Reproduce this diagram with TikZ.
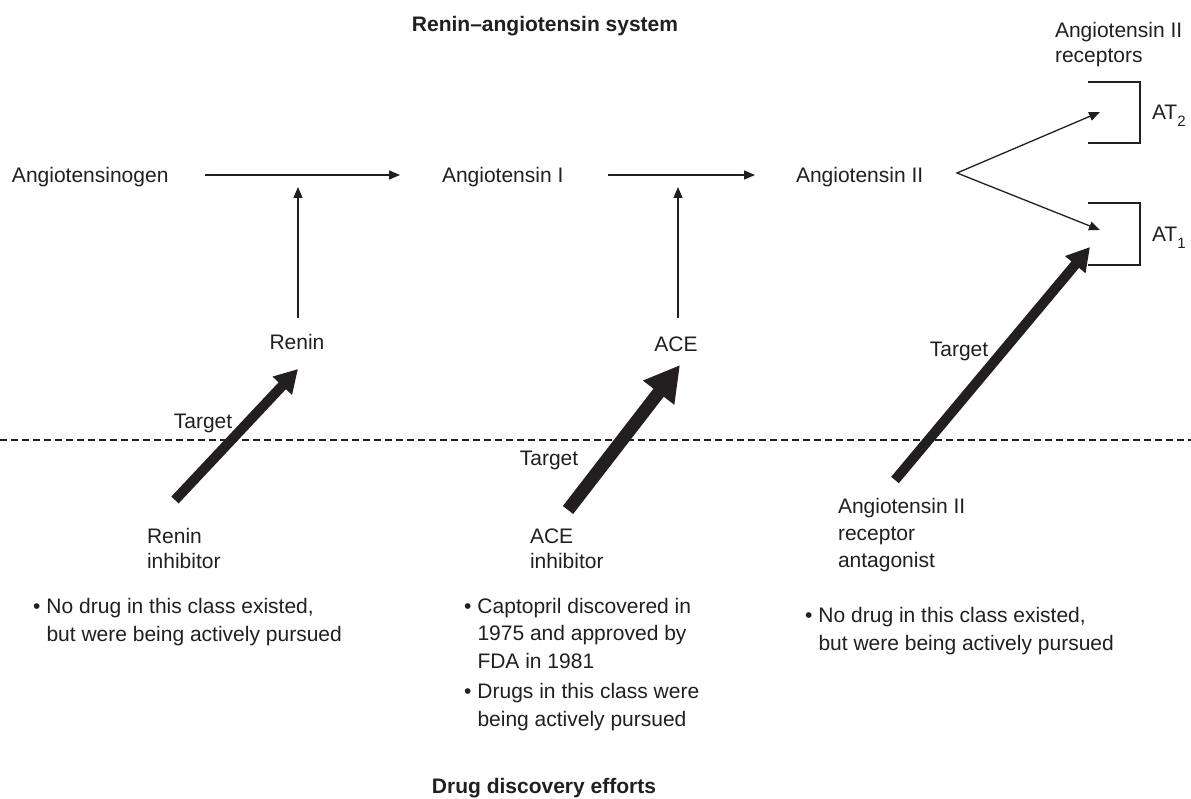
\documentclass[tikz,border=0pt]{standalone}
\usepackage{fontspec}
\setmainfont{Liberation Sans}
\usetikzlibrary{arrows.meta}
\definecolor{ink}{RGB}{35,31,32}
\newcommand{\mytab}[1]{\begin{tabular}[t]{@{}l@{}}#1\end{tabular}}
\newcommand{\bul}{\makebox[13.5pt][l]{\textbullet}}
\newcommand{\subn}[1]{\raisebox{-7pt}{\fontsize{15}{15}\selectfont #1}}
\begin{document}
\begin{tikzpicture}[x=1pt,y=-1pt,
  every node/.style={inner sep=0pt, outer sep=0pt, text=ink, font=\fontsize{21}{27}\selectfont},
  lbl/.style={anchor=base west},
  ctr/.style={anchor=base},
  thinarrow/.style={draw=ink, line width=1.3pt, -{Triangle[length=11pt,width=9pt]}},
  thickarrow/.style={draw=ink, line width=10pt, -{Triangle[length=23pt,width=25pt]}},
  bigarrow/.style={draw=ink, line width=13pt, -{Triangle[length=35pt,width=37pt]}},
  bracket/.style={draw=ink, line width=1.3pt},
  divider/.style={draw=ink, line width=1.3pt, dash pattern=on 7pt off 4pt}
]
\fill[white] (0,0) rectangle (1191,799);
\useasboundingbox (0,0) rectangle (1191,799);

% titles
\node[ctr, font=\fontsize{21}{27}\selectfont\bfseries] (title) at (545,32) {Renin–angiotensin system};
\node[ctr, font=\fontsize{21}{27}\selectfont\bfseries] (foot) at (544,793) {Drug discovery efforts};

% main row
\node[lbl] (ag) at (12,183) {Angiotensinogen};
\node[lbl] (a1) at (442,183) {Angiotensin I};
\node[lbl] (a2) at (796,183) {Angiotensin II};
\node[lbl] (rec) at (1055,38) {\fontsize{21}{25}\selectfont\mytab{Angiotensin II\\receptors}};
\node[lbl] (at2) at (1152,120) {AT\subn{2}};
\node[lbl] (at1) at (1152,242) {AT\subn{1}};

% enzymes
\node[ctr] (renin) at (297,350) {Renin};
\node[ctr] (ace) at (676,352) {ACE};

% coordinates
\coordinate (h1s) at (205,175);
\coordinate (h1e) at (400,175);
\coordinate (h2s) at (608,175);
\coordinate (h2e) at (755,175);
\coordinate (rb) at (298,318);
\coordinate (rt) at (298,187);
\coordinate (ab) at (678,318);
\coordinate (at) at (678,187);
\coordinate (v) at (957,173);
\coordinate (t2) at (1100,112);
\coordinate (t1) at (1100,230);

\draw[thinarrow] (h1s) -- (h1e);
\draw[thinarrow] (h2s) -- (h2e);
\draw[thinarrow] (rb) -- (rt);
\draw[thinarrow] (ab) -- (at);
\draw[draw=ink, line width=1.3pt, {Triangle[length=11pt,width=9pt]}-{Triangle[length=11pt,width=9pt]}] (t2) -- (v) -- (t1);

% brackets
\draw[bracket] (1088,82) -- (1140,82) -- (1140,143) -- (1088,143);
\draw[bracket] (1088,203) -- (1140,203) -- (1140,265) -- (1088,265);

% divider
\coordinate (dl) at (0,440);
\coordinate (dr) at (1191,440);
\draw[divider] (dl) -- (dr);

% drug arrows
\coordinate (ri0) at (175,500);
\coordinate (ri1) at (298,369);
\coordinate (ai0) at (568,510);
\coordinate (ai1) at (680,365);
\coordinate (ar0) at (895,480);
\coordinate (ar1) at (1090,247);
\draw[thickarrow] (ri0) -- (ri1);
\draw[bigarrow] (ai0) -- (ai1);
\draw[thickarrow] (ar0) -- (ar1);

\node[ctr] (tg1) at (203,428) {Target};
\node[ctr] (tg2) at (549,465) {Target};
\node[ctr] (tg3) at (959,357) {Target};

% drug labels
\node[lbl] (rinh) at (147,543) {\fontsize{21}{25}\selectfont\mytab{Renin\\inhibitor}};
\node[lbl] (ainh) at (530,543) {\fontsize{21}{25}\selectfont\mytab{ACE\\inhibitor}};
\node[lbl] (arb) at (838,513) {\fontsize{21}{27}\selectfont\mytab{Angiotensin II\\receptor\\antagonist}};

% bullets
\node[lbl] (b1) at (33,613) {\fontsize{21}{28}\selectfont\mytab{\bul No drug in this class existed,\\\hspace{13.5pt}but were being actively pursued}};
\node[lbl] (b2) at (464,613) {\fontsize{21}{27.8}\selectfont\mytab{\bul Captopril discovered in\\\hspace{13.5pt}1975 and approved by\\\hspace{13.5pt}FDA in 1981\\[2pt]\bul Drugs in this class were\\\hspace{13.5pt}being actively pursued}};
\node[lbl] (b3) at (805,622) {\fontsize{21}{28}\selectfont\mytab{\bul No drug in this class existed,\\\hspace{13.5pt}but were being actively pursued}};
\end{tikzpicture}
\end{document}
